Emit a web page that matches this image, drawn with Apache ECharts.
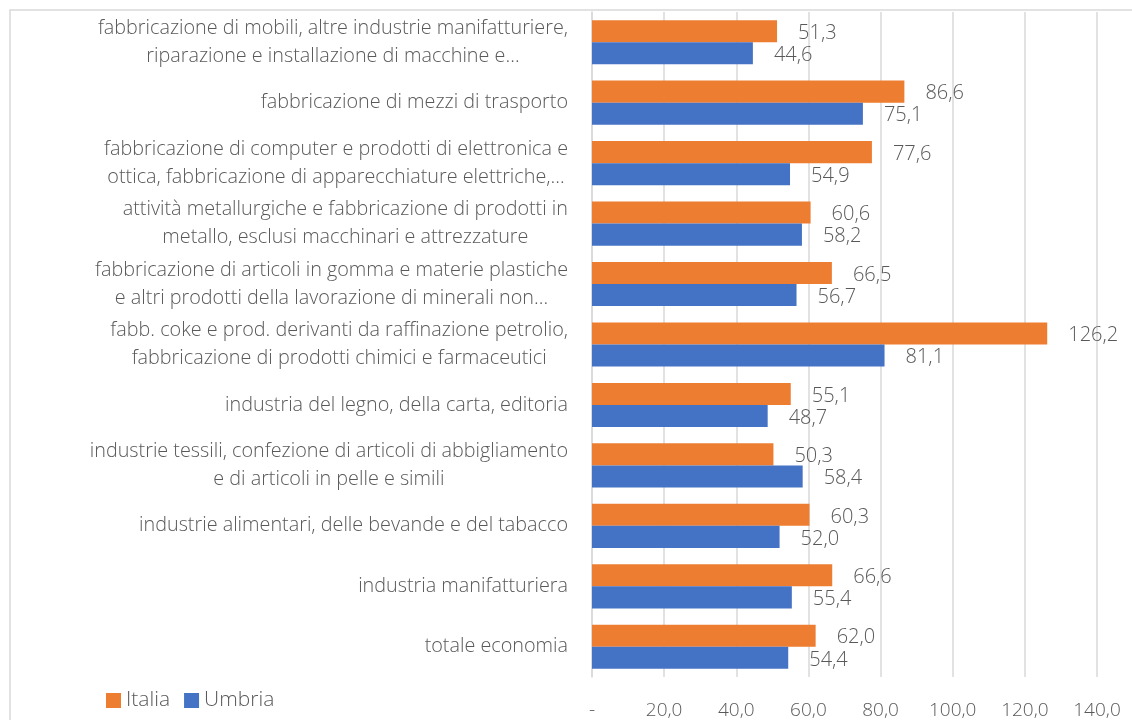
<!DOCTYPE html>
<html>
<head>
<meta charset="utf-8">
<script src="https://cdn.jsdelivr.net/npm/echarts@6/dist/echarts.min.js"></script>
<style>
  html, body { margin: 0; padding: 0; background: #fff; }
  #chart { width: 1132px; height: 720px; }
</style>
</head>
<body>
<div id="chart"></div>
<script>
// Categories, top to bottom
const categories = [
    'fabbricazione di mobili, altre industrie manifatturiere,\nriparazione e installazione di macchine e…',
    'fabbricazione di mezzi di trasporto',
    'fabbricazione di computer e prodotti di elettronica e\nottica, fabbricazione di apparecchiature elettriche,…',
    'attività metallurgiche e fabbricazione di prodotti in\nmetallo, esclusi macchinari e attrezzature',
    'fabbricazione di articoli in gomma e materie plastiche\ne altri prodotti della lavorazione di minerali non…',
    'fabb. coke e prod. derivanti da raffinazione petrolio,\nfabbricazione di prodotti chimici e farmaceutici',
    'industria del legno, della carta, editoria',
    'industrie tessili, confezione di articoli di abbigliamento\ne di articoli in pelle e simili',
    'industrie alimentari, delle bevande e del tabacco',
    'industria manifatturiera',
    'totale economia'
];

const italia = [51.3, 86.6, 77.6, 60.6, 66.5, 126.2, 55.1, 50.3, 60.3, 66.6, 62.0];
const umbria = [44.6, 75.1, 54.9, 58.2, 56.7, 81.1, 48.7, 58.4, 52.0, 55.4, 54.4];

const FONT = '"Open Sans", "Segoe UI", sans-serif';
const TEXT_COLOR = '#595959';

// italian number format: comma as decimal separator
function fmt(v) {
    return Number(v).toFixed(1).replace('.', ',');
}

const chart = echarts.init(document.getElementById('chart'));

function barSeries(name, data, color) {
    return {
        name: name,
        type: 'bar',
        data: data,
        barGap: '0%',
        barCategoryGap: '27%',
        itemStyle: { color: color },
        label: {
            show: true,
            position: 'right',
            distance: 21,
            offset: [0, 2],
            color: TEXT_COLOR,
            fontFamily: FONT,
            fontWeight: 300,
            fontSize: 20,
            formatter: p => fmt(p.value)
        }
    };
}

const option = {
    backgroundColor: '#fff',
    animation: false,
    textStyle: { fontFamily: FONT },
    graphic: [{
        type: 'rect',
        shape: { x: 10, y: 10, width: 1200, height: 800 },
        style: { fill: 'none', stroke: '#d9d9d9', lineWidth: 1.5 },
        silent: true
    }],
    grid: {
        left: 592,
        right: 35,
        top: 12,
        bottom: 42
    },
    legend: {
        left: 101,
        top: 685,
        itemWidth: 15,
        itemHeight: 15,
        itemGap: 14,
        icon: 'rect',
        textStyle: {
            color: TEXT_COLOR,
            fontFamily: FONT,
            fontWeight: 300,
            fontSize: 21
        },
        data: ['Italia', 'Umbria']
    },
    xAxis: {
        type: 'value',
        min: 0,
        max: 140,
        interval: 20,
        axisLine: { show: false },
        axisTick: { show: false },
        splitLine: { lineStyle: { color: '#d9d9d9', width: 1.5 } },
        axisLabel: {
            margin: 24,
            color: TEXT_COLOR,
            fontFamily: FONT,
            fontWeight: 300,
            fontSize: 19,
            formatter: v => (v === 0 ? '-' : fmt(v))
        }
    },
    yAxis: {
        type: 'category',
        inverse: true,
        data: categories,
        axisLine: { lineStyle: { color: '#d9d9d9', width: 1.5 } },
        axisTick: { show: false },
        axisLabel: {
            margin: 24,
            align: 'right',
            color: TEXT_COLOR,
            fontFamily: FONT,
            fontWeight: 300,
            fontSize: 19.8,
            lineHeight: 28,
            // block is right aligned, lines are centred inside it
            formatter: v => v.split('\n').map(s => '{c|' + s + '}').join('\n'),
            rich: {
                c: {
                    align: 'center',
                    color: TEXT_COLOR,
                    fontFamily: FONT,
                    fontWeight: 300,
                    fontSize: 19.8,
                    lineHeight: 28
                }
            }
        }
    },
    series: [
        barSeries('Italia', italia, '#ED7D31'),
        barSeries('Umbria', umbria, '#4472C4')
    ]
};

chart.setOption(option);
</script>
</body>
</html>
